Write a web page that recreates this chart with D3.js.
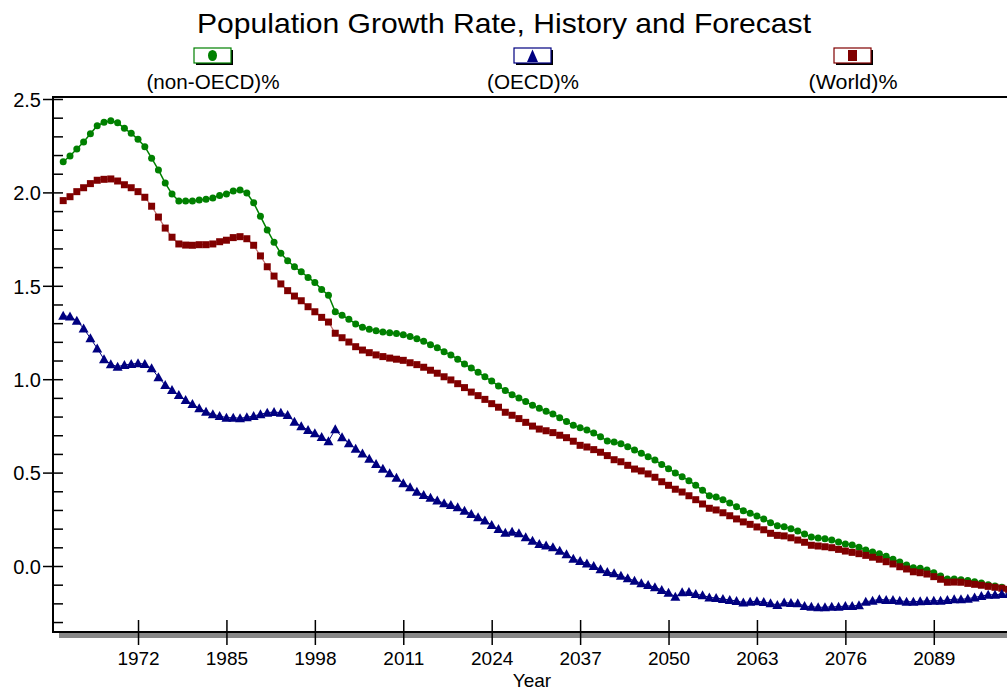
<!DOCTYPE html>
<html>
<head>
<meta charset="utf-8">
<script src="https://cdn.jsdelivr.net/npm/d3@7"></script>
<style>
  html, body { margin: 0; padding: 0; background: #fff; }
  svg { display: block; font-family: "Liberation Sans", Arial, sans-serif; }
</style>
</head>
<body>
<svg id="chart" width="1007" height="692"></svg>
<script>
// ---------- data ----------
const years = d3.range(1961, 2101);
const xTickValues = [1972, 1985, 1998, 2011, 2024, 2037, 2050, 2063, 2076, 2089];
const yTickValues = [0.0, 0.5, 1.0, 1.5, 2.0, 2.5];
const seriesNames = ["(non-OECD)%", "(OECD)%", "(World)%"];

const nonOECD = [
  2.164, 2.195, 2.232, 2.270, 2.314, 2.357, 2.375, 2.384, 2.373, 2.343,
  2.316, 2.284, 2.245, 2.183, 2.120, 2.050, 1.991, 1.954, 1.954, 1.954,
  1.959, 1.963, 1.970, 1.984, 1.991, 2.007, 2.013, 1.997, 1.944, 1.872,
  1.799, 1.733, 1.674, 1.634, 1.602, 1.575, 1.545, 1.518, 1.480, 1.450,
  1.361, 1.343, 1.321, 1.296, 1.278, 1.267, 1.260, 1.253, 1.249, 1.244,
  1.238, 1.228, 1.217, 1.203, 1.185, 1.169, 1.147, 1.130, 1.107, 1.081,
  1.060, 1.037, 1.013, 0.990, 0.964, 0.939, 0.917, 0.899, 0.880, 0.860,
  0.844, 0.828, 0.814, 0.794, 0.773, 0.753, 0.740, 0.728, 0.712, 0.692,
  0.669, 0.664, 0.655, 0.639, 0.621, 0.603, 0.585, 0.567, 0.544, 0.521,
  0.498, 0.478, 0.457, 0.432, 0.405, 0.376, 0.369, 0.355, 0.337, 0.317,
  0.296, 0.282, 0.268, 0.252, 0.232, 0.216, 0.210, 0.200, 0.187, 0.171,
  0.155, 0.150, 0.146, 0.139, 0.128, 0.118, 0.112, 0.100, 0.086, 0.075,
  0.066, 0.052, 0.036, 0.021, 0.005, -0.009, -0.012, -0.021, -0.036, -0.054,
  -0.070, -0.070, -0.073, -0.077, -0.084, -0.091, -0.100, -0.107, -0.114, -0.125
];

const oecd = [
  1.340, 1.335, 1.313, 1.272, 1.219, 1.165, 1.107, 1.080, 1.067, 1.076,
  1.081, 1.085, 1.081, 1.058, 1.010, 0.969, 0.942, 0.915, 0.889, 0.867,
  0.844, 0.826, 0.812, 0.803, 0.794, 0.794, 0.791, 0.796, 0.803, 0.812,
  0.821, 0.824, 0.821, 0.808, 0.772, 0.748, 0.728, 0.710, 0.690, 0.668,
  0.732, 0.689, 0.657, 0.628, 0.602, 0.574, 0.546, 0.520, 0.496, 0.473,
  0.443, 0.421, 0.398, 0.380, 0.366, 0.350, 0.336, 0.327, 0.314, 0.296,
  0.278, 0.261, 0.243, 0.219, 0.198, 0.178, 0.184, 0.175, 0.154, 0.135,
  0.118, 0.110, 0.100, 0.081, 0.063, 0.039, 0.027, 0.014, 0.000, -0.018,
  -0.032, -0.039, -0.052, -0.066, -0.079, -0.093, -0.102, -0.114, -0.128, -0.143,
  -0.164, -0.141, -0.139, -0.150, -0.157, -0.168, -0.171, -0.177, -0.182, -0.187,
  -0.196, -0.191, -0.189, -0.193, -0.200, -0.209, -0.196, -0.198, -0.200, -0.214,
  -0.218, -0.221, -0.221, -0.218, -0.218, -0.214, -0.214, -0.210, -0.191, -0.186,
  -0.178, -0.182, -0.182, -0.186, -0.191, -0.191, -0.189, -0.187, -0.186, -0.186,
  -0.182, -0.178, -0.178, -0.175, -0.168, -0.161, -0.154, -0.154, -0.150, -0.150
];

const world = [
  1.956, 1.977, 2.004, 2.025, 2.047, 2.065, 2.070, 2.072, 2.061, 2.041,
  2.025, 2.004, 1.974, 1.926, 1.868, 1.809, 1.760, 1.724, 1.718, 1.717,
  1.720, 1.720, 1.724, 1.736, 1.744, 1.758, 1.763, 1.752, 1.717, 1.660,
  1.602, 1.552, 1.510, 1.474, 1.445, 1.420, 1.388, 1.361, 1.331, 1.306,
  1.246, 1.222, 1.199, 1.174, 1.156, 1.142, 1.130, 1.121, 1.113, 1.107,
  1.101, 1.088, 1.078, 1.064, 1.048, 1.032, 1.013, 0.996, 0.976, 0.955,
  0.931, 0.912, 0.892, 0.869, 0.850, 0.823, 0.807, 0.789, 0.769, 0.749,
  0.733, 0.724, 0.714, 0.700, 0.687, 0.668, 0.646, 0.637, 0.623, 0.609,
  0.591, 0.569, 0.558, 0.539, 0.519, 0.509, 0.493, 0.475, 0.451, 0.432,
  0.411, 0.396, 0.376, 0.355, 0.332, 0.309, 0.300, 0.285, 0.269, 0.252,
  0.236, 0.223, 0.209, 0.194, 0.175, 0.164, 0.161, 0.151, 0.139, 0.127,
  0.111, 0.107, 0.103, 0.098, 0.089, 0.080, 0.073, 0.066, 0.057, 0.047,
  0.036, 0.023, 0.011, -0.004, -0.016, -0.031, -0.036, -0.043, -0.057, -0.071,
  -0.087, -0.086, -0.087, -0.093, -0.098, -0.103, -0.109, -0.114, -0.119, -0.125
];

(function () {
// ---------- layout ----------
const svg = d3.select("#chart");
const W = 1007;
const plotLeft = 53, plotTop = 97, plotBottom = 632;

const x = d3.scaleLinear().domain([1959.5, 2100.5]).range([53, 1012]);
const y = d3.scaleLinear().domain([0, 2.5]).range([566, 99]);

const colors = { green: "#008000", navy: "#000080", red: "#800000" };

// Title
svg.append("text")
  .attr("x", 504).attr("y", 33)
  .attr("text-anchor", "middle")
  .attr("font-size", 28)
  .attr("textLength", 614).attr("lengthAdjust", "spacingAndGlyphs")
  .attr("fill", "#000")
  .text("Population Growth Rate, History and Forecast");

// Legend
const legendItems = [
  { name: seriesNames[0], color: colors.green, shape: "circle", cx: 213 },
  { name: seriesNames[1], color: colors.navy, shape: "triangle", cx: 533 },
  { name: seriesNames[2], color: colors.red, shape: "square", cx: 853 }
];
const legendWidths = [133, 92, 89];
const lg = svg.append("g");
legendItems.forEach((d, i) => {
  const g = lg.append("g");
  g.append("rect").attr("x", d.cx - 17).attr("y", 50).attr("width", 37).attr("height", 15).attr("fill", "#000");
  g.append("rect").attr("x", d.cx - 19).attr("y", 48).attr("width", 37).attr("height", 15)
    .attr("fill", "#fff").attr("stroke", d.color).attr("stroke-width", 1.2);
  if (d.shape === "circle") {
    g.append("ellipse").attr("cx", d.cx - 0.5).attr("cy", 55.5).attr("rx", 4.5).attr("ry", 5.5).attr("fill", d.color);
  } else if (d.shape === "triangle") {
    g.append("path").attr("d", `M${d.cx - 0.5},49.5 L${d.cx + 5},62 L${d.cx - 6},62 Z`).attr("fill", d.color);
  } else {
    g.append("rect").attr("x", d.cx - 5).attr("y", 50).attr("width", 9).attr("height", 11).attr("fill", d.color);
  }
  g.append("text").attr("x", d.cx).attr("y", 89).attr("text-anchor", "middle")
    .attr("font-size", 20)
    .attr("textLength", legendWidths[i]).attr("lengthAdjust", "spacingAndGlyphs")
    .attr("fill", "#000").text(d.name);
});

// Plot frame
svg.append("line").attr("x1", plotLeft).attr("x2", W).attr("y1", plotTop).attr("y2", plotTop)
  .attr("stroke", "#000").attr("stroke-width", 2);
svg.append("rect").attr("x", 59).attr("y", 633).attr("width", W - 59).attr("height", 5).attr("fill", "#888");
svg.append("line").attr("x1", plotLeft).attr("x2", W).attr("y1", plotBottom).attr("y2", plotBottom)
  .attr("stroke", "#000").attr("stroke-width", 2);
svg.append("line").attr("x1", plotLeft).attr("x2", plotLeft).attr("y1", plotTop - 1).attr("y2", plotBottom + 1)
  .attr("stroke", "#000").attr("stroke-width", 2);

// Y axis: major ticks (crossing) with labels, minor ticks inward
const yAxis = d3.axisLeft(y).tickValues(yTickValues).tickFormat(d3.format(".1f")).tickSize(10).tickPadding(3);
const yg = svg.append("g").attr("transform", `translate(${plotLeft},0)`).call(yAxis);
yg.select(".domain").remove();
yg.selectAll(".tick line").attr("x2", 10).attr("x1", -10).attr("stroke", "#000").attr("stroke-width", 1.5);
yg.selectAll(".tick text").attr("font-size", 20).attr("font-family", "Liberation Sans, Arial, sans-serif")
  .attr("fill", "#000").attr("x", -12).attr("dy", "0.36em");

const minorVals = d3.range(-3, 25).map(k => k / 10).filter(v => Math.abs(v * 2 - Math.round(v * 2)) > 1e-6);
const yMinor = d3.axisRight(y).tickValues(minorVals).tickSize(10).tickFormat("");
const ymg = svg.append("g").attr("transform", `translate(${plotLeft},0)`).call(yMinor);
ymg.select(".domain").remove();
ymg.selectAll(".tick line").attr("stroke", "#000").attr("stroke-width", 1.5);

// X axis
const xAxis = d3.axisBottom(x).tickValues(xTickValues).tickFormat(d3.format("d")).tickSize(13).tickPadding(14);
const xg = svg.append("g").attr("transform", `translate(0,${plotBottom})`).call(xAxis);
xg.select(".domain").remove();
xg.selectAll(".tick line").attr("y1", -12).attr("y2", 13).attr("stroke", "#000").attr("stroke-width", 1.5);
xg.selectAll(".tick text").attr("font-size", 19).attr("font-family", "Liberation Sans, Arial, sans-serif")
  .attr("fill", "#000").attr("y", 33).attr("dy", 0);

svg.append("text").attr("x", 532).attr("y", 687).attr("text-anchor", "middle")
  .attr("font-size", 19).attr("fill", "#000").text("Year");

// Series
const plot = svg.append("g");
const line = d3.line().x((d, i) => x(years[i])).y(d => y(d));

plot.append("path").datum(nonOECD).attr("d", line).attr("fill", "none")
  .attr("stroke", colors.green).attr("stroke-width", 1.5);
plot.append("g").selectAll("circle").data(nonOECD).join("circle")
  .attr("cx", (d, i) => x(years[i])).attr("cy", d => y(d)).attr("r", 3.5)
  .attr("fill", colors.green);

plot.append("path").datum(world).attr("d", line).attr("fill", "none")
  .attr("stroke", "#c07070").attr("stroke-width", 1.2);
plot.append("g").selectAll("rect").data(world).join("rect")
  .attr("x", (d, i) => x(years[i]) - 3.5).attr("y", d => y(d) - 3.5)
  .attr("width", 7).attr("height", 7)
  .attr("fill", colors.red);

plot.append("path").datum(oecd).attr("d", line).attr("fill", "none")
  .attr("stroke", colors.navy).attr("stroke-width", 1);
plot.append("g").selectAll("path").data(oecd).join("path")
  .attr("transform", (d, i) => `translate(${x(years[i])},${y(d)})`)
  .attr("d", "M0,-5 L5,4 L-5,4 Z")
  .attr("fill", colors.navy);
})();
</script>
</body>
</html>
